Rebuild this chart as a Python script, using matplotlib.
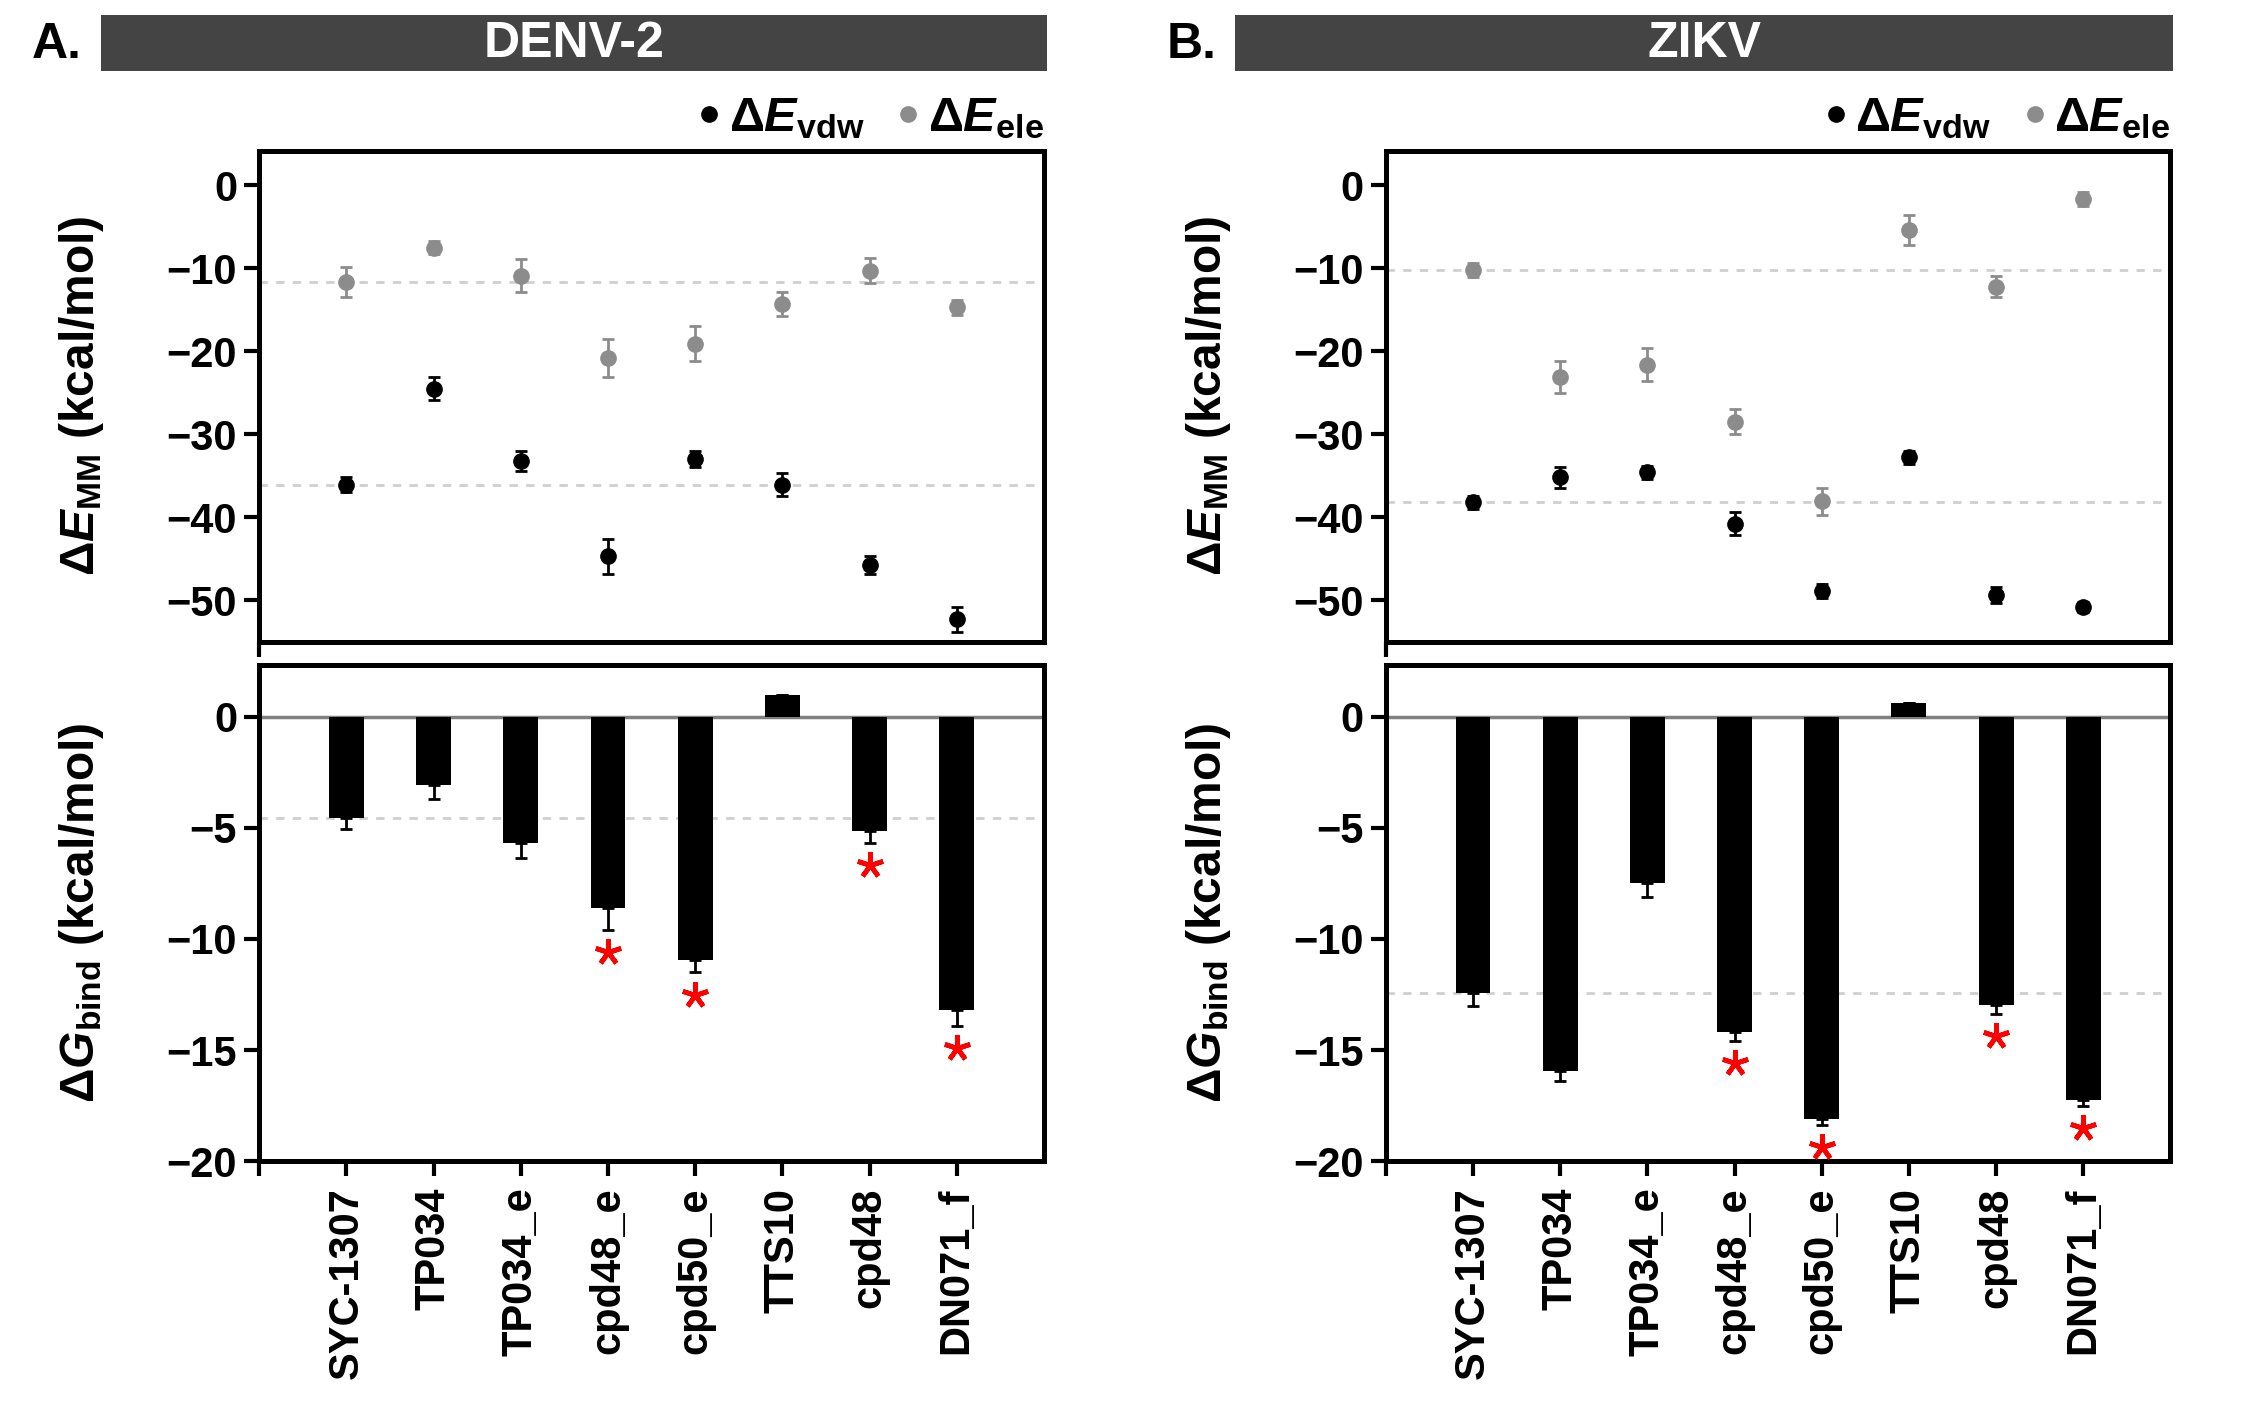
import matplotlib
matplotlib.use('Agg')
import matplotlib.pyplot as plt
from matplotlib import font_manager as fm
from matplotlib.lines import Line2D
import numpy as np

# ---------------- data ----------------
compounds = ['SYC-1307', 'TP034', 'TP034_e', 'cpd48_e', 'cpd50_e', 'TTS10', 'cpd48', 'DN071_f']

denv_vdw = [-36.1, -24.5, -33.2, -44.7, -33.0, -36.1, -45.8, -52.3]
denv_vdw_err = [0.9, 1.4, 1.2, 2.1, 1.0, 1.4, 1.1, 1.5]
denv_ele = [-11.6, -7.5, -10.9, -20.8, -19.1, -14.3, -10.3, -14.7]
denv_ele_err = [1.8, 0.8, 2.0, 2.3, 2.1, 1.4, 1.5, 0.9]
denv_dg = [-4.56, -3.08, -5.69, -8.6, -10.94, 0.97, -5.12, -13.2]
denv_dg_err = [0.5, 0.6, 0.65, 1.0, 0.56, 0.0, 0.54, 0.7]
denv_sig = [False, False, False, True, True, False, True, True]

zikv_vdw = [-38.2, -35.2, -34.6, -40.8, -48.9, -32.8, -49.4, -50.8]
zikv_vdw_err = [0.8, 1.3, 0.8, 1.4, 0.8, 0.8, 1.0, 0.6]
zikv_ele = [-10.2, -23.1, -21.6, -28.5, -38.1, -5.4, -12.2, -1.65]
zikv_ele_err = [0.8, 1.9, 2.0, 1.5, 1.6, 1.8, 1.3, 0.8]
zikv_dg = [-12.45, -15.94, -7.49, -14.2, -18.08, 0.63, -12.97, -17.25]
zikv_dg_err = [0.58, 0.47, 0.63, 0.4, 0.3, 0.0, 0.4, 0.25]
zikv_sig = [False, False, False, True, True, False, True, True]

panels = [
    ('A.', 'DENV-2', denv_vdw, denv_vdw_err, denv_ele, denv_ele_err, denv_dg, denv_dg_err, denv_sig),
    ('B.', 'ZIKV', zikv_vdw, zikv_vdw_err, zikv_ele, zikv_ele_err, zikv_dg, zikv_dg_err, zikv_sig),
]

top_ticks = [0, -10, -20, -30, -40, -50]
bot_ticks = [0, -5, -10, -15, -20]

# ---------------- fonts ----------------
names = {f.name for f in fm.fontManager.ttflist}
NARROW = 'Liberation Sans Narrow' if 'Liberation Sans Narrow' in names else 'Liberation Sans'
plt.rcParams['font.family'] = [NARROW, 'DejaVu Sans']
plt.rcParams['font.weight'] = 'bold'
plt.rcParams['mathtext.fontset'] = 'custom'
plt.rcParams['mathtext.rm'] = 'Liberation Sans:bold'
plt.rcParams['mathtext.bf'] = 'Liberation Sans:bold'
plt.rcParams['mathtext.it'] = 'Liberation Sans:bold:italic'
plt.rcParams['mathtext.bfit'] = 'Liberation Sans:bold:italic'
plt.rcParams['axes.unicode_minus'] = True

GRAY = '#8c8c8c'
REF = '#cfcfcf'
SPW = 3.6

fig = plt.figure(figsize=(22.45, 14.14), dpi=100)

lefts = [0.1155, 0.6173]
barx = [(0.045, 0.4213), (0.5502, 0.4178)]
letx = [0.0255, 0.531]

for k, (letter, title, vdw, vdw_e, ele, ele_e, dg, dg_e, sig) in enumerate(panels):
    L = lefts[k]
    x = np.arange(len(compounds))
    ax1 = fig.add_axes([L, 0.5463, 0.3495, 0.3472])
    ax2 = fig.add_axes([L, 0.1788, 0.3495, 0.3512])

    # ---- top panel ----
    ax1.axhline(vdw[0], color=REF, ls=(0, (3, 3)), lw=2, zorder=0)
    ax1.axhline(ele[0], color=REF, ls=(0, (3, 3)), lw=2, zorder=0)
    ax1.errorbar(x, vdw, yerr=vdw_e, fmt='o', color='black', ms=11,
                 elinewidth=2, capsize=4, capthick=2, zorder=3)
    ax1.errorbar(x, ele, yerr=ele_e, fmt='o', color=GRAY, ms=11,
                 elinewidth=2, capsize=4, capthick=2, zorder=3)
    ax1.set_xlim(-1, 8)
    ax1.set_ylim(-55, 4.2)
    ax1.set_yticks(top_ticks)
    ax1.set_xticks([-1])
    ax1.set_xticklabels([''])
    ax1.set_ylabel(r'Δ$\mathbfit{E}_{\mathbf{MM}}$ (kcal/mol)', fontsize=34.5,
                   fontfamily='Liberation Sans', fontweight='bold')
    ax1.yaxis.set_label_coords(-0.195, 0.5)

    handles = [Line2D([], [], marker='o', ls='none', color='black', ms=11),
               Line2D([], [], marker='o', ls='none', color=GRAY, ms=11)]
    labels = [r'Δ$\mathbfit{E}_{\mathbf{vdw}}$', r'Δ$\mathbfit{E}_{\mathbf{ele}}$']
    ax1.legend(handles, labels, loc='lower right', bbox_to_anchor=(1.0, 1.02),
               frameon=False, ncol=2, handletextpad=0.1, columnspacing=0.6,
               borderaxespad=0, handlelength=0.6, borderpad=0,
               prop={'family': 'Liberation Sans', 'weight': 'bold', 'size': 35})

    # ---- bottom panel ----
    ax2.axhline(0, color='#808080', lw=2.5, zorder=1)
    ax2.axhline(dg[0], color=REF, ls=(0, (3, 3)), lw=2, zorder=0)
    ax2.bar(x, dg, width=0.4, color='black', zorder=2)
    lower = [e if v < 0 else 0 for v, e in zip(dg, dg_e)]
    upper = [e if v >= 0 else 0 for v, e in zip(dg, dg_e)]
    ax2.errorbar(x, dg, yerr=[lower, upper], fmt='none', ecolor='black',
                 elinewidth=2, capsize=4, capthick=2, zorder=3)
    sx = [xi for xi, s in zip(x, sig) if s]
    sy = [v - e - 1.0 for v, e, s in zip(dg, dg_e, sig) if s]
    ax2.plot(sx, sy, ls='none', marker=(5, 2, 0), color='red', ms=19, mew=3.4, zorder=4)
    ax2.set_xlim(-1, 8)
    ax2.set_ylim(-20, 2.35)
    ax2.set_yticks(bot_ticks)
    ax2.set_xticks(np.arange(-1, len(compounds)))
    ax2.set_xticklabels([''] + compounds, rotation=90, fontsize=29,
                        fontfamily='Liberation Sans', fontweight='bold')
    ax2.set_ylabel(r'Δ$\mathbfit{G}_{\mathbf{bind}}$ (kcal/mol)', fontsize=34.5,
                   fontfamily='Liberation Sans', fontweight='bold')
    ax2.yaxis.set_label_coords(-0.195, 0.5)

    for ax in (ax1, ax2):
        for sp in ax.spines.values():
            sp.set_linewidth(SPW)
        ax.tick_params(axis='both', direction='out', length=11, width=3,
                       labelsize=30, pad=5)
        ax.tick_params(axis='x', pad=8)

    # ---- title bar ----
    bx, bw = barx[k]
    tb = fig.add_axes([bx, 0.9498, bw, 0.0399])
    tb.set_facecolor('#444444')
    tb.set_xticks([]); tb.set_yticks([])
    for sp in tb.spines.values():
        sp.set_visible(False)
    tb.text(0.5, 0.48, title, color='white', fontsize=36, ha='center', va='center',
            fontweight='bold', transform=tb.transAxes)
    fig.text(letx[k], 0.968, letter, fontsize=36, fontweight='bold',
             ha='center', va='center')

fig.savefig('out.png', dpi=100)
